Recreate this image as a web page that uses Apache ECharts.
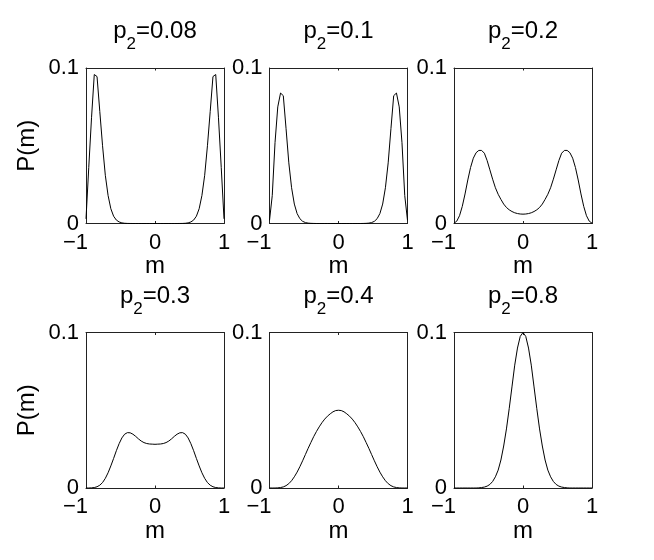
<!DOCTYPE html>
<html><head><meta charset="utf-8">
<script src="https://cdn.jsdelivr.net/npm/echarts@6/dist/echarts.min.js"></script>
<style>html,body{margin:0;padding:0;background:#fff}#c{width:654px;height:560px}</style>
</head><body><div id="c"></div><script>
const mValues = [-1,-0.96,-0.92,-0.88,-0.84,-0.8,-0.76,-0.72,-0.68,-0.64,-0.6,-0.56,-0.52,-0.48,-0.44,-0.4,-0.36,-0.32,-0.28,-0.24,-0.2,-0.16,-0.12,-0.08,-0.04,0,0.04,0.08,0.12,0.16,0.2,0.24,0.28,0.32,0.36,0.4,0.44,0.48,0.52,0.56,0.6,0.64,0.68,0.72,0.76,0.8,0.84,0.88,0.92,0.96,1];
const pTitles = ['0.08','0.1','0.2','0.3','0.4','0.8'];
const P_008 = [0.003,0.036,0.068,0.0958,0.0945,0.072,0.050,0.031,0.018,0.0095,0.0047,0.0022,0.001,0.0004,0.00015,0.00005,0.00002,
  0,0,0,0,0,0,0,0,0,0,0,0,0,0,0,0,0,
  0.00002,0.00005,0.00015,0.0004,0.001,0.0022,0.0047,0.0095,0.018,0.031,0.050,0.072,0.0945,0.0958,0.068,0.036,0.003];
const P_01 = [0.002,0.018,0.052,0.075,0.0839,0.0822,0.061,0.039,0.023,0.0125,0.0064,0.0031,0.0014,0.0006,0.00025,0.0001,0.00004,
  0,0,0,0,0,0,0,0,0,0,0,0,0,0,0,0,0,
  0.00004,0.0001,0.00025,0.0006,0.0014,0.0031,0.0064,0.0125,0.023,0.039,0.061,0.0822,0.0839,0.075,0.052,0.018,0.002];
const P_02 = [0.0002,0.0015,0.005,0.011,0.019,0.028,0.036,0.042,0.0455,0.047,0.047,0.0452,0.0405,0.0345,0.0285,0.023,0.0188,0.0155,0.0125,0.0103,0.0088,0.0077,0.0069,0.0064,0.0061,
  0.006,
  0.0061,0.0064,0.0069,0.0077,0.0088,0.0103,0.0125,0.0155,0.0188,0.023,0.0285,0.0345,0.0405,0.0452,0.047,0.047,0.0455,0.042,0.036,0.028,0.019,0.011,0.005,0.0015,0.0002];
const P_03 = [0,0,0.0001,0.0003,0.0008,0.0018,0.0035,0.0062,0.0098,0.0142,0.019,0.024,0.0285,0.0322,0.0346,0.0356,0.0355,0.0346,0.0332,0.0316,0.0302,0.0292,0.0286,0.0283,0.0282,
  0.0281,
  0.0282,0.0283,0.0286,0.0292,0.0302,0.0316,0.0332,0.0346,0.0355,0.0356,0.0346,0.0322,0.0285,0.024,0.019,0.0142,0.0098,0.0062,0.0035,0.0018,0.0008,0.0003,0.0001,0,0];
const P_04 = [0,0,0,0.0001,0.0003,0.0007,0.0015,0.0028,0.0047,0.0072,0.0102,0.0137,0.0175,0.0215,0.0255,0.0293,0.033,0.0363,0.0393,0.042,0.0443,0.0462,0.0477,0.049,0.0498,
  0.05,
  0.0498,0.049,0.0477,0.0462,0.0443,0.042,0.0393,0.0363,0.033,0.0293,0.0255,0.0215,0.0175,0.0137,0.0102,0.0072,0.0047,0.0028,0.0015,0.0007,0.0003,0.0001,0,0,0];
const P_08 = [0,0,0,0,0,0,0,0,0,0.0001,0.0003,0.0006,0.0012,0.0023,0.0042,0.0072,0.0115,0.018,0.027,0.038,0.051,0.065,0.079,0.09,0.0975,
  0.1,
  0.0975,0.09,0.079,0.065,0.051,0.038,0.027,0.018,0.0115,0.0072,0.0042,0.0023,0.0012,0.0006,0.0003,0.0001,0,0,0,0,0,0,0,0,0];
const xTickValues = [-1, 0, 1];
const xTickLabels = ['−1', '0', '1'];
const yTickValues = [0, 0.1];
const yTickLabels = ['0', '0.1'];
const panelsData = [P_008, P_01, P_02, P_03, P_04, P_08];

const FONT = '"Liberation Sans", Arial, Helvetica, sans-serif';
const LEFTS = [86, 269.5, 454];
const TOPS = [68, 332.5];
const W = 138, H = 155.5;
const TITLE_Y = [31, 296];
const AXC = '#222';

const grids = [], xAxes = [], yAxes = [], series = [], graphics = [];
panelsData.forEach((arr, i) => {
  const r = Math.floor(i / 3), c = i % 3;
  grids.push({left: LEFTS[c], top: TOPS[r], width: W, height: H, containLabel: false});
  const lineStyle = {color: AXC, width: 1};
  const tick = {show: true, inside: true, length: 2.5, lineStyle};
  xAxes.push({
    gridIndex: i, type: 'value', min: -1, max: 1, interval: 1, position: 'bottom',
    axisLine: {show: true, onZero: false, lineStyle}, axisTick: tick, splitLine: {show: false},
    axisLabel: {
      margin: 8, color: '#000', fontSize: 22, fontFamily: FONT,
      formatter: v => { const k = xTickValues.indexOf(v); const s = k >= 0 ? xTickLabels[k] : ''; return v < 0 ? '{n|' + s + '}' : s; },
      rich: {n: {fontSize: 22, fontFamily: FONT, color: '#000', padding: [0, 21, 0, 0]}}
    },
    name: 'm', nameLocation: 'middle', nameGap: 31,
    nameTextStyle: {color: '#000', fontSize: 24, fontFamily: FONT}
  });
  xAxes.push({
    gridIndex: i, type: 'value', min: -1, max: 1, interval: 1, position: 'top',
    axisLine: {show: true, onZero: false, lineStyle}, axisTick: tick, splitLine: {show: false},
    axisLabel: {show: false}
  });
  const yMain = {
    gridIndex: i, type: 'value', min: 0, max: 0.1, interval: 0.1, position: 'left',
    axisLine: {show: true, onZero: false, lineStyle}, axisTick: tick, splitLine: {show: false},
    axisLabel: {
      margin: 7, color: '#000', fontSize: 22, fontFamily: FONT,
      formatter: v => { const k = yTickValues.findIndex(t => Math.abs(t - v) < 1e-9); return k >= 0 ? yTickLabels[k] : ''; }
    }
  };
  if (c === 0) {
    yMain.name = 'P(m)'; yMain.nameLocation = 'middle'; yMain.nameGap = 47;
    yMain.nameTextStyle = {color: '#000', fontSize: 24, fontFamily: FONT};
  }
  yAxes.push(yMain);
  yAxes.push({
    gridIndex: i, type: 'value', min: 0, max: 0.1, interval: 0.1, position: 'right',
    axisLine: {show: true, onZero: false, lineStyle}, axisTick: tick, splitLine: {show: false},
    axisLabel: {show: false}
  });
  series.push({
    type: 'line', xAxisIndex: 2 * i, yAxisIndex: 2 * i,
    data: mValues.map((m, j) => [m, arr[j]]),
    showSymbol: false, symbol: 'none', silent: true,
    lineStyle: {color: '#000', width: 1}
  });
  graphics.push({
    type: 'text', x: LEFTS[c] + W / 2, y: TITLE_Y[r],
    style: {
      text: '{a|p}{s|2}{a|=' + pTitles[i] + '}',
      align: 'center', verticalAlign: 'middle',
      rich: {
        a: {fontSize: 24, fontFamily: FONT, fill: '#000'},
        s: {fontSize: 17, fontFamily: FONT, fill: '#000', padding: [26, 0, 0, 0]}
      }
    }
  });
});

const chart = echarts.init(document.getElementById('c'), null, {renderer: 'canvas'});
chart.setOption({
  animation: false,
  backgroundColor: '#fff',
  grid: grids, xAxis: xAxes, yAxis: yAxes, series: series, graphic: graphics
});
</script></body></html>
